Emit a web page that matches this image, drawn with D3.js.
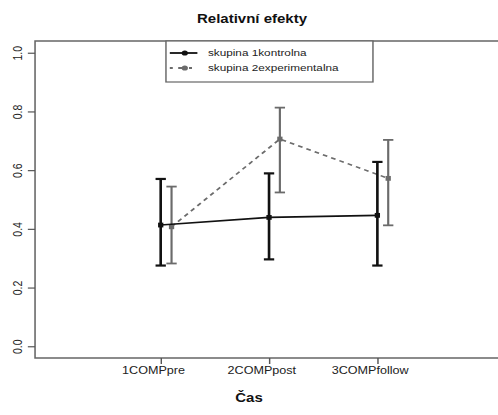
<!DOCTYPE html>
<html>
<head>
<meta charset="utf-8">
<script src="https://cdn.jsdelivr.net/npm/d3@7"></script>
<style>
  html, body { margin: 0; padding: 0; background: #fff; overflow: hidden; }
  svg { display: block; font-family: "Liberation Sans", Arial, sans-serif; }
</style>
</head>
<body>
<div id="chart"></div>
<script>
// Data

const timepoints = ["1COMPpre", "2COMPpost", "3COMPfollow"];
const groupNames = ["skupina 1kontrolna", "skupina 2experimentalna"];

const kontrolMean = [0.413, 0.439, 0.446];
const kontrolLower = [0.275, 0.296, 0.275];
const kontrolUpper = [0.570, 0.589, 0.628];

const experMean = [0.407, 0.706, 0.572];
const experLower = [0.282, 0.524, 0.412];
const experUpper = [0.544, 0.813, 0.703];

const yTicks = [0, 0.2, 0.4, 0.6, 0.8, 1.0];

(function () {
  // Config: the picture is drawn on a square canvas and stretched wide

  const width = 498;
  const height = 415;
  const vbW = 415;
  const vbH = 415;

  const black = "#111";
  const grey = "#6b6b6b";

  const svg = d3.select("#chart")
    .append("svg")
    .attr("width", width)
    .attr("height", height)
    .attr("viewBox", [0, 0, vbW, vbH])
    .attr("preserveAspectRatio", "none");

  // Scales (R-style 4% padding around 0..4 and 0..1)

  const xScale = d3.scaleLinear()
    .domain([-0.16, 4.16])
    .range([29.2, 419.2]);

  const yScale = d3.scaleLinear()
    .domain([-0.04, 1.04])
    .range([358, 41]);

  const groups = [
    { name: groupNames[0], color: black, offset: 0, dash: null, bw: 2.2,
      rows: timepoints.map((t, i) => ({ i: i + 1, m: kontrolMean[i], lo: kontrolLower[i], hi: kontrolUpper[i] })) },
    { name: groupNames[1], color: grey, offset: 0.1, dash: "4,3.5", bw: 1.8,
      rows: timepoints.map((t, i) => ({ i: i + 1, m: experMean[i], lo: experLower[i], hi: experUpper[i] })) }
  ];

  // Plot frame (right edge falls outside the picture)

  const x0 = xScale.range()[0];
  const x1 = xScale.range()[1];
  const yTop = yScale.range()[1];
  const yBot = yScale.range()[0];

  svg.append("path")
    .attr("d", "M" + x1 + "," + yTop + "H" + x0 + "V" + yBot + "H" + x1)
    .attr("fill", "none")
    .attr("stroke", "#666")
    .attr("stroke-width", 1.3);

  // Axes

  const yAxis = d3.axisLeft(yScale)
    .tickValues(yTicks)
    .tickFormat(d3.format(".1f"))
    .tickSize(6);

  const gy = svg.append("g")
    .attr("transform", "translate(" + x0 + ",0)")
    .call(yAxis);

  gy.select(".domain").remove();
  gy.selectAll(".tick line").attr("stroke", "#555").attr("stroke-width", 1.2);
  gy.selectAll(".tick text")
    .attr("fill", "#222")
    .attr("font-size", 10.5)
    .attr("text-anchor", "middle")
    .attr("x", 0)
    .attr("dy", 0)
    .attr("transform", "translate(-15,0) rotate(-90)")
    .attr("y", 3.8);

  const xAxis = d3.axisBottom(xScale)
    .tickValues([1, 2, 3])
    .tickFormat(d => timepoints[d - 1])
    .tickSize(6);

  const gx = svg.append("g")
    .attr("transform", "translate(0," + yBot + ")")
    .call(xAxis);

  gx.select(".domain").remove();
  gx.selectAll(".tick line").attr("stroke", "#555").attr("stroke-width", 1.2);
  gx.selectAll(".tick text")
    .attr("fill", "#222")
    .attr("font-size", 10.5)
    .attr("dx", -6.5)
    .attr("y", 16)
    .attr("dy", 0);

  // Titles

  svg.append("text")
    .attr("x", 210)
    .attr("y", 23)
    .attr("text-anchor", "middle")
    .attr("font-weight", "bold")
    .attr("font-size", 12.5)
    .attr("fill", "#111")
    .text("Relativní efekty");

  svg.append("text")
    .attr("x", 207.5)
    .attr("y", 402)
    .attr("text-anchor", "middle")
    .attr("font-weight", "bold")
    .attr("font-size", 12.5)
    .attr("fill", "#111")
    .text("Čas");

  // Lines, error bars and points

  const line = d3.line()
    .x(d => xScale(d.i))
    .y(d => yScale(d.m));

  const capHalf = 4.3;

  groups.slice().reverse().forEach(g => {
    const pts = g.rows.map(r => Object.assign({}, r, { i: r.i + g.offset }));

    svg.append("path")
      .datum(pts)
      .attr("d", line)
      .attr("fill", "none")
      .attr("stroke", g.color)
      .attr("stroke-width", 1.6)
      .attr("stroke-dasharray", g.dash);

    const bars = svg.append("g").selectAll("g")
      .data(pts)
      .join("g")
      .attr("stroke", g.color)
      .attr("stroke-width", g.bw);

    bars.append("line")
      .attr("x1", d => xScale(d.i)).attr("x2", d => xScale(d.i))
      .attr("y1", d => yScale(d.lo)).attr("y2", d => yScale(d.hi));

    bars.append("line")
      .attr("x1", d => xScale(d.i) - capHalf).attr("x2", d => xScale(d.i) + capHalf)
      .attr("y1", d => yScale(d.hi)).attr("y2", d => yScale(d.hi));

    bars.append("line")
      .attr("x1", d => xScale(d.i) - capHalf).attr("x2", d => xScale(d.i) + capHalf)
      .attr("y1", d => yScale(d.lo)).attr("y2", d => yScale(d.lo));

    svg.append("g").selectAll("rect")
      .data(pts)
      .join("rect")
      .attr("x", d => xScale(d.i) - 2.2)
      .attr("y", d => yScale(d.m) - 2.4)
      .attr("width", 4.4)
      .attr("height", 4.8)
      .attr("fill", g.color);
  });

  // Legend

  const legend = svg.append("g");

  legend.append("rect")
    .attr("x", 138.3)
    .attr("y", 41)
    .attr("width", 172.5)
    .attr("height", 41)
    .attr("fill", "#fff")
    .attr("stroke", "#666")
    .attr("stroke-width", 1.2);

  groups.forEach((g, k) => {
    const ly = 53 + k * 15;

    legend.append("line")
      .attr("x1", 141.5).attr("x2", 164.5)
      .attr("y1", ly).attr("y2", ly)
      .attr("stroke", g.color)
      .attr("stroke-width", 1.8)
      .attr("stroke-dasharray", g.dash ? "2.5,4.5,5,4" : null);

    legend.append("circle")
      .attr("cx", 154)
      .attr("cy", ly)
      .attr("r", 2.6)
      .attr("fill", g.color);

    legend.append("text")
      .attr("x", 173.3)
      .attr("y", ly + 3.5)
      .attr("font-size", 9.8)
      .attr("fill", "#222")
      .text(g.name);
  });
})();
</script>
</body>
</html>
